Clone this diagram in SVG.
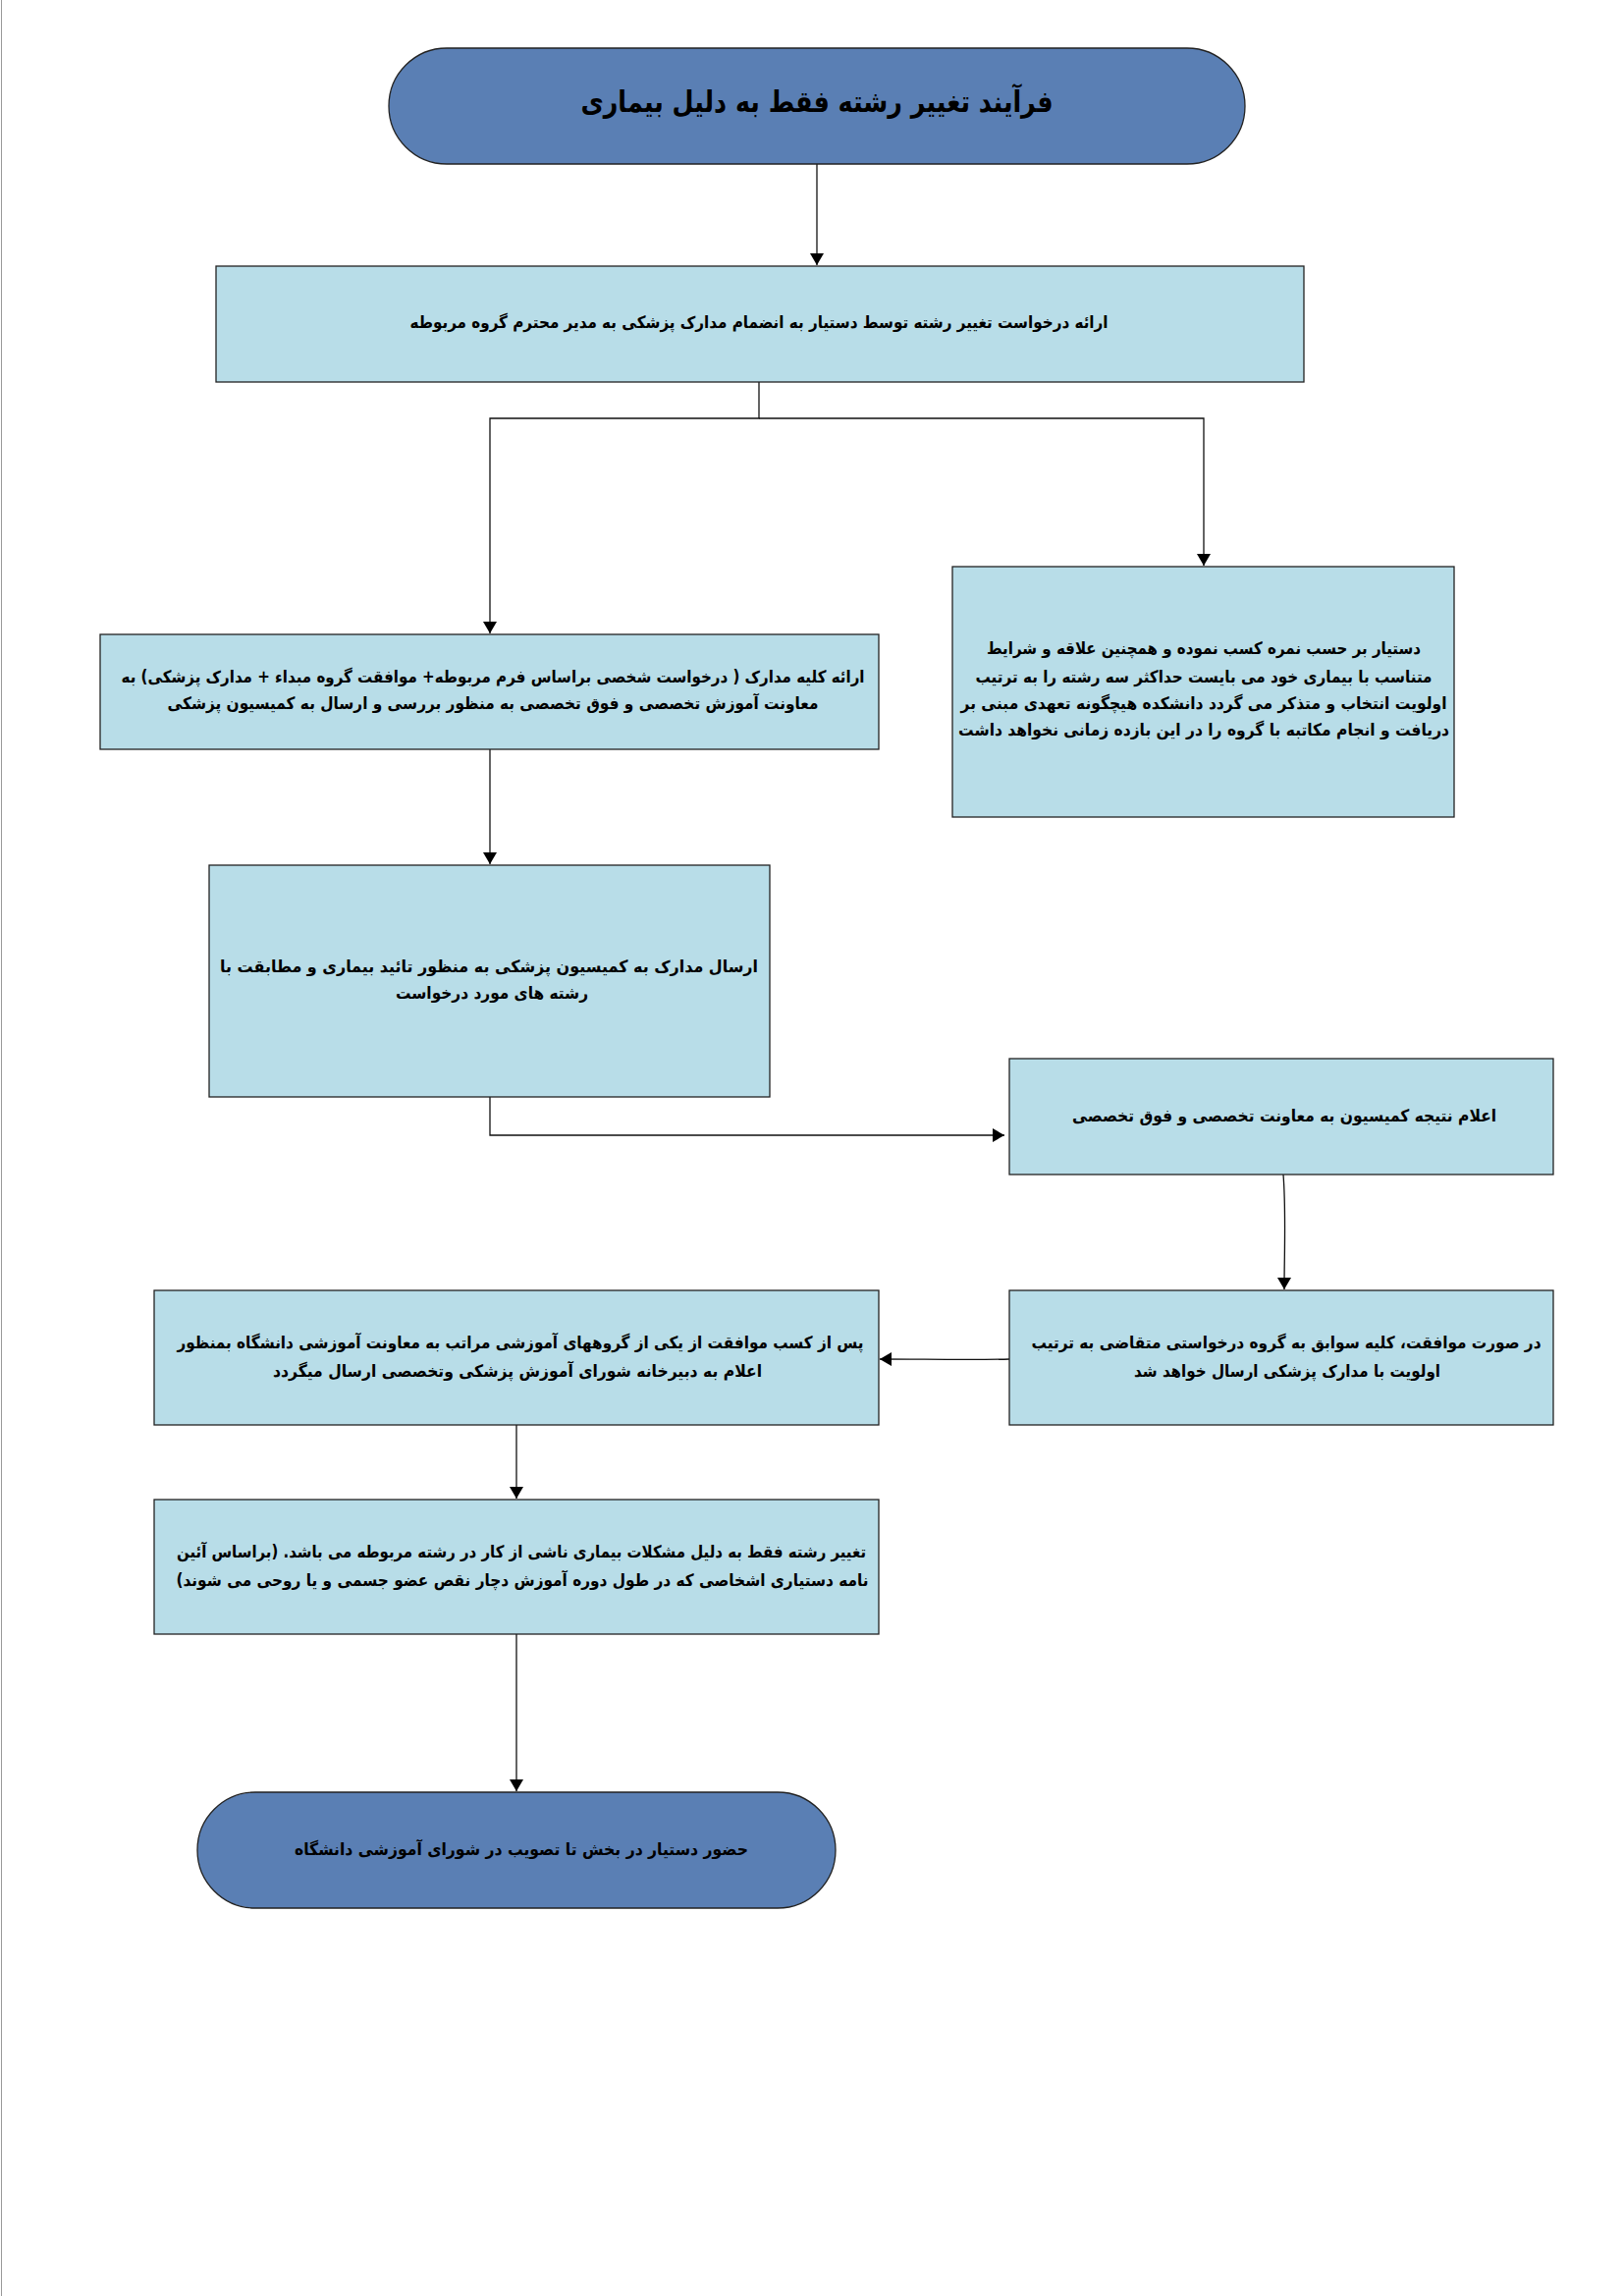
<svg xmlns="http://www.w3.org/2000/svg" width="1653" height="2338" viewBox="0 0 1653 2338">
<style>
.box{fill:#b8dde8;stroke:#222;stroke-width:1.3}
.pill{fill:#5a7fb4;stroke:#222;stroke-width:1.3}
.t{font-family:"DejaVu Sans","Noto Sans",sans-serif;font-weight:bold;font-size:17px;fill:#000;text-anchor:middle}
.title{font-size:30px}
.c{fill:none;stroke:#111;stroke-width:1.3}
</style>
<defs>
<marker id="ah" viewBox="0 0 12 14" refX="12" refY="7" markerWidth="12" markerHeight="14" markerUnits="userSpaceOnUse" orient="auto">
<path d="M0,0 L12,7 L0,14 z" fill="#000"/>
</marker>
</defs>
<rect width="1653" height="2338" fill="#fff"/>
<line x1="1.5" y1="0" x2="1.5" y2="2338" stroke="#999" stroke-width="1"/>

<g id="connectors">
<path class="c" d="M832,167 V270" marker-end="url(#ah)"/>
<path class="c" d="M773,389 V426 H499 V645" marker-end="url(#ah)"/>
<path class="c" d="M773,426 H1226 V576" marker-end="url(#ah)"/>
<path class="c" d="M499,763 V880" marker-end="url(#ah)"/>
<path class="c" d="M499,1117 V1156 H1023" marker-end="url(#ah)"/>
<path class="c" d="M1307,1196 C1310,1234 1308,1275 1308,1313" marker-end="url(#ah)"/>
<path class="c" d="M1028,1384 C990,1385 940,1384 896,1384" marker-end="url(#ah)"/>
<path class="c" d="M526,1451 V1526" marker-end="url(#ah)"/>
<path class="c" d="M526,1664 V1824" marker-end="url(#ah)"/>
</g>

<g id="n0">
<rect class="pill" x="396" y="49" width="872" height="118" rx="59"/>
<text class="t title" x="832" y="114" direction="rtl" textLength="481" lengthAdjust="spacingAndGlyphs">فرآیند تغییر رشته فقط به دلیل بیماری</text>
</g>

<g id="n1">
<rect class="box" x="220" y="271" width="1108" height="118"/>
<text class="t" x="773" y="334" direction="rtl" textLength="711" lengthAdjust="spacingAndGlyphs">ارائه درخواست تغییر رشته توسط دستیار به انضمام مدارک پزشکی به مدیر محترم گروه مربوطه</text>
</g>

<g id="n2">
<rect class="box" x="102" y="646" width="793" height="117"/>
<text class="t" x="502" y="695" direction="rtl" textLength="757" lengthAdjust="spacingAndGlyphs">ارائه کلیه مدارک ( درخواست شخصی براساس فرم مربوطه+ موافقت گروه مبداء + مدارک پزشکی) به</text>
<text class="t" x="502" y="722" direction="rtl" textLength="663" lengthAdjust="spacingAndGlyphs">معاونت آموزش تخصصی و فوق تخصصی به منظور بررسی و ارسال به کمیسیون پزشکی</text>
</g>

<g id="n3">
<rect class="box" x="970" y="577" width="511" height="255"/>
<text class="t" x="1226" y="666" direction="rtl" textLength="442" lengthAdjust="spacingAndGlyphs">دستیار بر حسب نمره کسب نموده و  همچنین  علاقه و شرایط</text>
<text class="t" x="1226" y="695" direction="rtl" textLength="465" lengthAdjust="spacingAndGlyphs">متناسب با بیماری خود می بایست حداکثر سه رشته را به ترتیب</text>
<text class="t" x="1226" y="722" direction="rtl" textLength="495" lengthAdjust="spacingAndGlyphs">اولویت  انتخاب و متذکر می گردد دانشکده هیچگونه تعهدی مبنی بر</text>
<text class="t" x="1226" y="749" direction="rtl" textLength="500" lengthAdjust="spacingAndGlyphs">دریافت و انجام مکاتبه با گروه را در این بازده زمانی  نخواهد داشت</text>
</g>

<g id="n4">
<rect class="box" x="213" y="881" width="571" height="236"/>
<text class="t" x="498" y="990" direction="rtl" textLength="548" lengthAdjust="spacingAndGlyphs">ارسال  مدارک به کمیسیون پزشکی به منظور   تائید بیماری و مطابقت با</text>
<text class="t" x="501" y="1017" direction="rtl" textLength="196" lengthAdjust="spacingAndGlyphs">رشته های مورد درخواست</text>
</g>

<g id="n5">
<rect class="box" x="1028" y="1078" width="554" height="118"/>
<text class="t" x="1308" y="1142" direction="rtl" textLength="432" lengthAdjust="spacingAndGlyphs">اعلام نتیجه کمیسیون به معاونت تخصصی و فوق تخصصی</text>
</g>

<g id="n6">
<rect class="box" x="1028" y="1314" width="554" height="137"/>
<text class="t" x="1310" y="1373" direction="rtl" textLength="519" lengthAdjust="spacingAndGlyphs">در صورت موافقت، کلیه سوابق به  گروه درخواستی متقاضی به ترتیب</text>
<text class="t" x="1311" y="1402" direction="rtl" textLength="312" lengthAdjust="spacingAndGlyphs">اولویت با مدارک پزشکی ارسال خواهد شد</text>
</g>

<g id="n7">
<rect class="box" x="157" y="1314" width="738" height="137"/>
<text class="t" x="530" y="1373" direction="rtl" textLength="699" lengthAdjust="spacingAndGlyphs">پس از کسب موافقت از یکی از گروههای آموزشی مراتب به معاونت آموزشی دانشگاه بمنظور</text>
<text class="t" x="527" y="1402" direction="rtl" textLength="498" lengthAdjust="spacingAndGlyphs">اعلام به دبیرخانه شورای آموزش پزشکی وتخصصی ارسال میگردد</text>
</g>

<g id="n8">
<rect class="box" x="157" y="1527" width="738" height="137"/>
<text class="t" x="531" y="1586" direction="rtl" textLength="702" lengthAdjust="spacingAndGlyphs">تغییر رشته فقط به دلیل مشکلات بیماری ناشی از کار در رشته مربوطه می باشد. (براساس آئین</text>
<text class="t" x="532" y="1615" direction="rtl" textLength="705" lengthAdjust="spacingAndGlyphs">نامه دستیاری اشخاصی که در طول دوره آموزش دچار نقص عضو جسمی و یا روحی می شوند)</text>
</g>

<g id="n9">
<rect class="pill" x="201" y="1825" width="650" height="118" rx="59"/>
<text class="t" x="531" y="1889" direction="rtl" textLength="462" lengthAdjust="spacingAndGlyphs">حضور دستیار در بخش تا تصویب در شورای آموزشی دانشگاه</text>
</g>
</svg>
